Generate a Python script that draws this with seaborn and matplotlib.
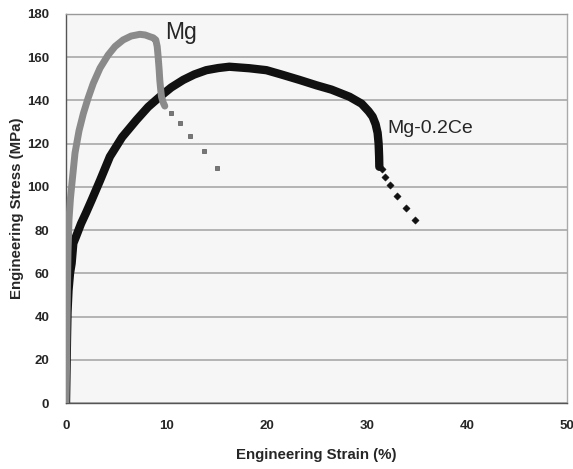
import matplotlib
matplotlib.use("Agg")
import matplotlib.pyplot as plt
import seaborn as sns
import pandas as pd
import numpy as np

# ---- data ----
mg_strain = [0.0, 0.05, 0.1, 0.15, 0.2, 0.3, 0.45, 0.6, 0.9, 1.3, 1.73, 2.2, 2.72, 3.4, 4.2, 4.9, 5.7, 6.5, 7.37, 7.9, 8.37, 8.7, 8.96, 9.1, 9.2, 9.3, 9.36, 9.45, 9.53, 9.7, 9.86]
mg_stress = [0.0, 15, 35, 55, 70, 85, 95, 102, 115.7, 126, 133.9, 141, 147.9, 155, 161, 165, 168, 169.8, 170.6, 170.3, 169.5, 169, 168, 165, 160, 154, 149.5, 145, 141.7, 139, 137.4]
mg_tail_strain = [10.46, 11.35, 12.42, 13.75, 15.11]
mg_tail_stress = [134.3, 129.7, 123.6, 116.6, 108.9]

ce_strain = [0.0, 0.05, 0.1, 0.15, 0.25, 0.4, 0.56, 0.73, 1.0, 1.5, 2.0, 2.56, 3.4, 4.38, 5.6, 7.04, 8.2, 9.36, 10.5, 11.7, 12.8, 14.0, 15.2, 16.3, 18.3, 20.0, 21.5, 23.3, 25.0, 26.5, 28.3, 29.5, 30.2, 30.6, 30.9, 31.1, 31.2, 31.25, 31.27]
ce_stress = [0.0, 15, 30, 42, 52, 60, 64.6, 73.9, 77, 83, 88, 93.9, 103, 114, 123, 131, 137, 141.7, 146, 149.5, 152, 154, 155, 155.6, 154.9, 154, 152, 149.5, 147, 145, 141.7, 138.5, 135, 132.5, 129, 125, 120, 114, 109.3]
ce_tail_strain = [31.5, 31.8, 32.3, 33.0, 33.9, 34.8]
ce_tail_stress = [108.1, 104.7, 100.7, 95.8, 90.4, 84.5]

x_ticks = [0, 10, 20, 30, 40, 50]
y_ticks = [0, 20, 40, 60, 80, 100, 120, 140, 160, 180]

sns.set_theme(style="white")
plt.rcParams['font.family'] = ['Liberation Sans', 'DejaVu Sans']

fig = plt.figure(figsize=(5.73, 4.69), dpi=100)
ax = fig.add_axes([66/573, 1-403/469, (567-66)/573, (403-14)/469])
ax.set_facecolor('#f6f6f6')

mg_df = pd.DataFrame({'strain': mg_strain, 'stress': mg_stress})
ce_df = pd.DataFrame({'strain': ce_strain, 'stress': ce_stress})

sns.lineplot(data=ce_df, x='strain', y='stress', ax=ax, color='#111111', lw=6, sort=False, zorder=3)
sns.lineplot(data=mg_df, x='strain', y='stress', ax=ax, color='#8a8a8a', lw=5, sort=False, zorder=4)
sns.scatterplot(x=mg_tail_strain, y=mg_tail_stress, ax=ax, color='#777777', s=12, marker='s', edgecolor='#555555', linewidth=0.5, zorder=4)
sns.scatterplot(x=ce_tail_strain, y=ce_tail_stress, ax=ax, color='#111111', s=14, marker='D', edgecolor='#111111', linewidth=0.3, zorder=3)

ax.set_xlim(0, 50)
ax.set_ylim(0, 180)
ax.set_xticks(x_ticks)
ax.set_yticks(y_ticks)
ax.yaxis.grid(True, color='#a8a8a8', lw=1.2)
ax.xaxis.grid(False)

for s in ['left', 'bottom', 'top']:
    ax.spines[s].set_linestyle((0, (1, 1)))
    ax.spines[s].set_color('#555555')
    ax.spines[s].set_linewidth(1.0)
ax.spines['top'].set_color('#999999')
ax.spines['right'].set_color('#aaaaaa')
ax.spines['right'].set_linewidth(1.0)

ax.tick_params(axis='both', which='both', length=4, color='#888888', direction='out',
               labelsize=9.5, pad=8)
for lab in ax.get_xticklabels() + ax.get_yticklabels():
    lab.set_fontweight('bold')

ax.set_xlabel('Engineering Strain (%)', fontsize=10.8, fontweight='bold', labelpad=12)
ax.set_ylabel('Engineering Stress (MPa)', fontsize=10.8, fontweight='bold')
ax.yaxis.set_label_coords(-0.0838, 0.5)

ax.text(9.86, 168.4, 'Mg', fontsize=16.5)
ax.text(32.1, 125, 'Mg-0.2Ce', fontsize=14)

fig.savefig('out.png', dpi=100)
